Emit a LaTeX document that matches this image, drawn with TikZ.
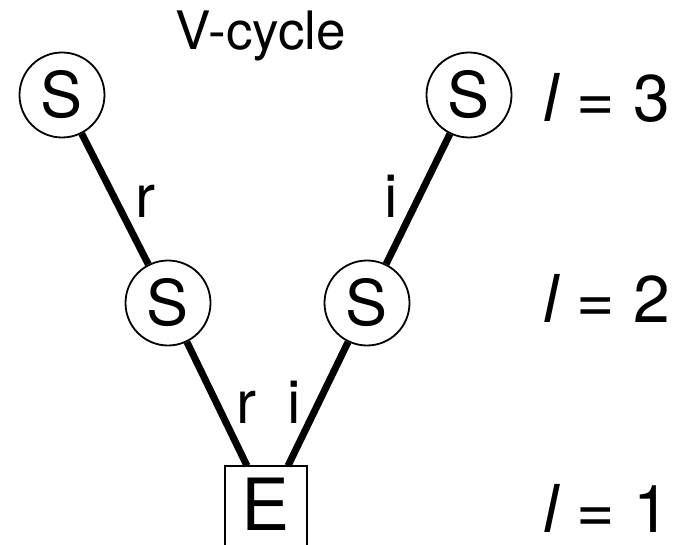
\documentclass[tikz,border=0pt]{standalone}
\usepackage{fontspec}
\setmainfont{TeX Gyre Heros}
\begin{document}
\begin{tikzpicture}[x=1pt,y=-1pt,
  snode/.style={draw,circle,line width=1.8pt,minimum size=85pt,inner sep=0pt,font=\fontsize{63}{69}\selectfont},
  enode/.style={rectangle,minimum width=82pt,minimum height=76pt,inner sep=0pt,font=\fontsize{72}{78}\selectfont},
  edge/.style={line width=7pt},
  frame/.style={line width=1.8pt},
  lbl/.style={anchor=base west,inner sep=0pt,font=\fontsize{60}{66}\selectfont},
  lvl/.style={anchor=base west,inner sep=0pt,font=\fontsize{66}{72}\selectfont}]
\useasboundingbox (0,0) rectangle (685,545);
\node[anchor=base west,inner sep=0pt,font=\fontsize{53}{60}\selectfont] (title) at (175,50) {V-cycle};
\node[snode] (tl) at (62,95) {S};
\node[snode] (tr) at (469,95) {S};
\node[snode] (ml) at (168,303) {S};
\node[snode] (mr) at (367,303) {S};
\node[enode] (E) at (266,504) {E};
\draw[frame] ([yshift=-6pt]E.south west) |- (E.north east) -- ([yshift=-6pt]E.south east);
\draw[edge] (tl) -- (ml);
\draw[edge] (ml) -- ([xshift=-19pt]E.north);
\draw[edge] ([xshift=22pt]E.north) -- (mr);
\draw[edge] (mr) -- (tr);
\node[lbl] (r1) at (135,218) {r};
\node[lbl] (i1) at (384,218) {i};
\node[lbl] (r2) at (236,423) {r};
\node[lbl] (i2) at (287,423) {i};
\node[lvl] (l3) at (543,122) {\itshape l\upshape{} = 3};
\node[lvl] (l2) at (543,322) {\itshape l\upshape{} = 2};
\node[lvl] (l1) at (543,532) {\itshape l\upshape{} = 1};
\end{tikzpicture}
\end{document}
